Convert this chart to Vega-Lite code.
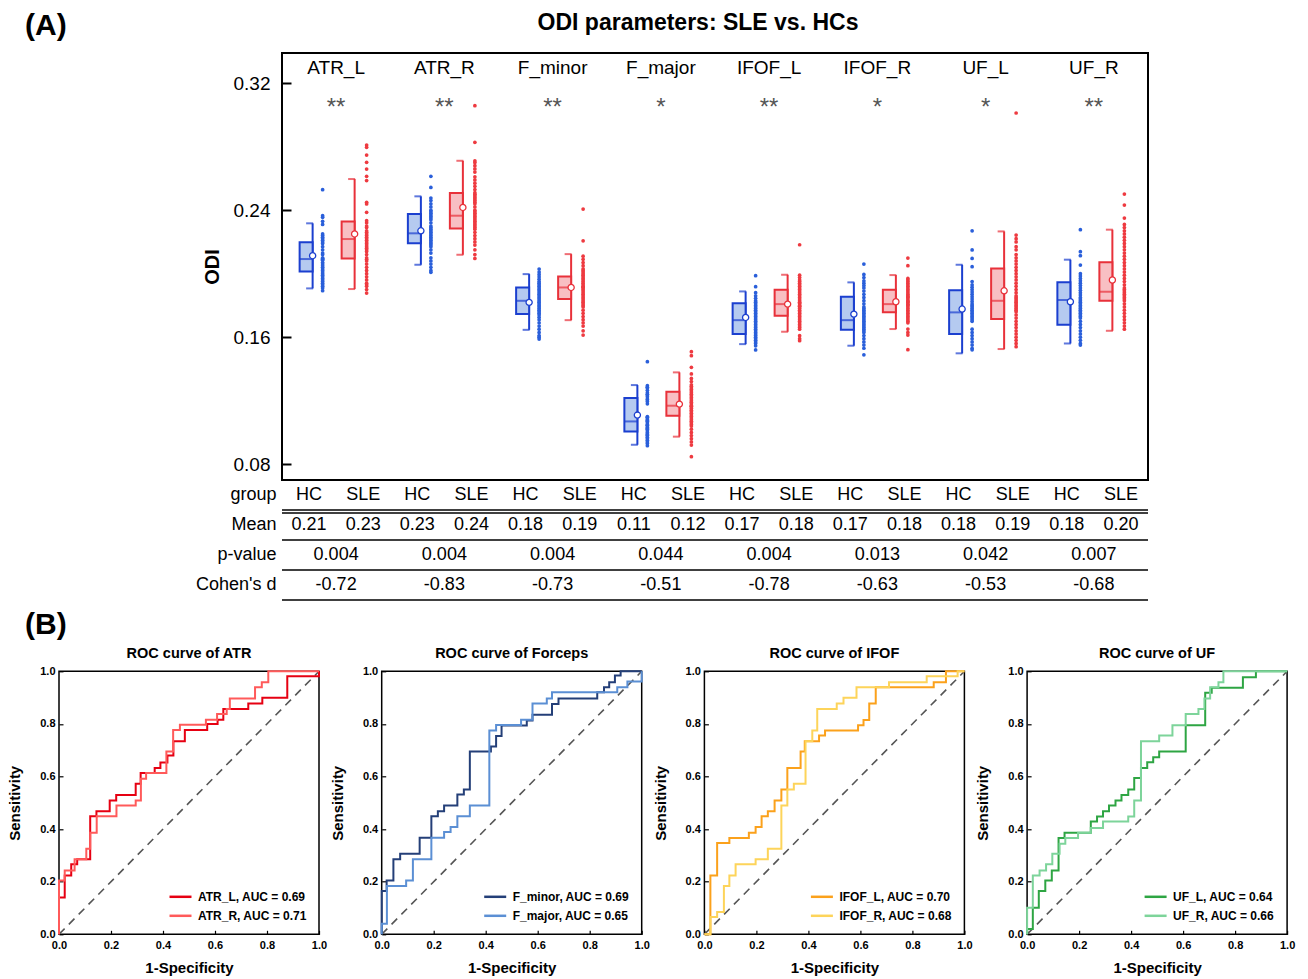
{
"$schema": "https://vega.github.io/schema/vega-lite/v6.json",
"padding": {"left": 6, "top": 11, "right": 4, "bottom": 1},
"bounds": "flush",
"spacing": 618.3,
"config": {
  "font": "Liberation Sans",
  "view": {"stroke": null},
  "axis": {"grid": false, "domain": false, "labelColor": "black", "titleColor": "black", "tickColor": "black", "labelFlush": false, "labelOverlap": false},
  "title": {"font": "Liberation Sans", "color": "black"},
  "text": {"font": "Liberation Sans", "color": "black"},
  "legend": {"labelFont": "Liberation Sans"}
},
"datasets": {
  "stats": [
    {"t":"ATR_L","g":"HC","q1":0.2014,"med":0.2092,"q3":0.2197,"mean":0.2113,"lo":0.1907,"hi":0.2317},
    {"t":"ATR_L","g":"SLE","q1":0.2096,"med":0.2218,"q3":0.2329,"mean":0.2250,"lo":0.1903,"hi":0.2596},
    {"t":"ATR_R","g":"HC","q1":0.2191,"med":0.2254,"q3":0.2375,"mean":0.2270,"lo":0.2056,"hi":0.2487},
    {"t":"ATR_R","g":"SLE","q1":0.2285,"med":0.2365,"q3":0.2508,"mean":0.2417,"lo":0.2119,"hi":0.2711},
    {"t":"F_minor","g":"HC","q1":0.1745,"med":0.1829,"q3":0.1913,"mean":0.1819,"lo":0.1646,"hi":0.1997},
    {"t":"F_minor","g":"SLE","q1":0.1840,"med":0.1913,"q3":0.1982,"mean":0.1913,"lo":0.1707,"hi":0.2123},
    {"t":"F_major","g":"HC","q1":0.1006,"med":0.1069,"q3":0.1216,"mean":0.1109,"lo":0.0922,"hi":0.1298},
    {"t":"F_major","g":"SLE","q1":0.1105,"med":0.1168,"q3":0.1256,"mean":0.1178,"lo":0.0973,"hi":0.1378},
    {"t":"IFOF_L","g":"HC","q1":0.1619,"med":0.1707,"q3":0.1814,"mean":0.1724,"lo":0.1556,"hi":0.1888},
    {"t":"IFOF_L","g":"SLE","q1":0.1735,"med":0.1808,"q3":0.1899,"mean":0.1808,"lo":0.1634,"hi":0.1993},
    {"t":"IFOF_R","g":"HC","q1":0.1646,"med":0.1707,"q3":0.1854,"mean":0.1745,"lo":0.1546,"hi":0.1945},
    {"t":"IFOF_R","g":"SLE","q1":0.1756,"med":0.1808,"q3":0.1899,"mean":0.1823,"lo":0.1651,"hi":0.1991},
    {"t":"UF_L","g":"HC","q1":0.1619,"med":0.1756,"q3":0.1896,"mean":0.1777,"lo":0.1498,"hi":0.2056},
    {"t":"UF_L","g":"SLE","q1":0.1714,"med":0.1829,"q3":0.2033,"mean":0.1892,"lo":0.1525,"hi":0.2266},
    {"t":"UF_R","g":"HC","q1":0.1678,"med":0.1834,"q3":0.1945,"mean":0.1823,"lo":0.1560,"hi":0.2088},
    {"t":"UF_R","g":"SLE","q1":0.1829,"med":0.1886,"q3":0.2071,"mean":0.1960,"lo":0.1640,"hi":0.2277}
  ],
  "tracts": [
    {"t":"ATR_L","sig":"**"},{"t":"ATR_R","sig":"**"},{"t":"F_minor","sig":"**"},{"t":"F_major","sig":"*"},
    {"t":"IFOF_L","sig":"**"},{"t":"IFOF_R","sig":"*"},{"t":"UF_L","sig":"*"},{"t":"UF_R","sig":"**"}
  ],
  "tgm": [
    {"row":"group","t":"ATR_L","g":"HC","txt":"HC"},{"row":"group","t":"ATR_L","g":"SLE","txt":"SLE"},
    {"row":"group","t":"ATR_R","g":"HC","txt":"HC"},{"row":"group","t":"ATR_R","g":"SLE","txt":"SLE"},
    {"row":"group","t":"F_minor","g":"HC","txt":"HC"},{"row":"group","t":"F_minor","g":"SLE","txt":"SLE"},
    {"row":"group","t":"F_major","g":"HC","txt":"HC"},{"row":"group","t":"F_major","g":"SLE","txt":"SLE"},
    {"row":"group","t":"IFOF_L","g":"HC","txt":"HC"},{"row":"group","t":"IFOF_L","g":"SLE","txt":"SLE"},
    {"row":"group","t":"IFOF_R","g":"HC","txt":"HC"},{"row":"group","t":"IFOF_R","g":"SLE","txt":"SLE"},
    {"row":"group","t":"UF_L","g":"HC","txt":"HC"},{"row":"group","t":"UF_L","g":"SLE","txt":"SLE"},
    {"row":"group","t":"UF_R","g":"HC","txt":"HC"},{"row":"group","t":"UF_R","g":"SLE","txt":"SLE"},
    {"row":"Mean","t":"ATR_L","g":"HC","txt":"0.21"},{"row":"Mean","t":"ATR_L","g":"SLE","txt":"0.23"},
    {"row":"Mean","t":"ATR_R","g":"HC","txt":"0.23"},{"row":"Mean","t":"ATR_R","g":"SLE","txt":"0.24"},
    {"row":"Mean","t":"F_minor","g":"HC","txt":"0.18"},{"row":"Mean","t":"F_minor","g":"SLE","txt":"0.19"},
    {"row":"Mean","t":"F_major","g":"HC","txt":"0.11"},{"row":"Mean","t":"F_major","g":"SLE","txt":"0.12"},
    {"row":"Mean","t":"IFOF_L","g":"HC","txt":"0.17"},{"row":"Mean","t":"IFOF_L","g":"SLE","txt":"0.18"},
    {"row":"Mean","t":"IFOF_R","g":"HC","txt":"0.17"},{"row":"Mean","t":"IFOF_R","g":"SLE","txt":"0.18"},
    {"row":"Mean","t":"UF_L","g":"HC","txt":"0.18"},{"row":"Mean","t":"UF_L","g":"SLE","txt":"0.19"},
    {"row":"Mean","t":"UF_R","g":"HC","txt":"0.18"},{"row":"Mean","t":"UF_R","g":"SLE","txt":"0.20"}
  ],
  "tpd": [
    {"row":"p-value","t":"ATR_L","txt":"0.004"},{"row":"p-value","t":"ATR_R","txt":"0.004"},
    {"row":"p-value","t":"F_minor","txt":"0.004"},{"row":"p-value","t":"F_major","txt":"0.044"},
    {"row":"p-value","t":"IFOF_L","txt":"0.004"},{"row":"p-value","t":"IFOF_R","txt":"0.013"},
    {"row":"p-value","t":"UF_L","txt":"0.042"},{"row":"p-value","t":"UF_R","txt":"0.007"},
    {"row":"Cohen's d","t":"ATR_L","txt":"-0.72"},{"row":"Cohen's d","t":"ATR_R","txt":"-0.83"},
    {"row":"Cohen's d","t":"F_minor","txt":"-0.73"},{"row":"Cohen's d","t":"F_major","txt":"-0.51"},
    {"row":"Cohen's d","t":"IFOF_L","txt":"-0.78"},{"row":"Cohen's d","t":"IFOF_R","txt":"-0.63"},
    {"row":"Cohen's d","t":"UF_L","txt":"-0.53"},{"row":"Cohen's d","t":"UF_R","txt":"-0.68"}
  ],
  "tlines": [{"row":"group"},{"row":"Mean"},{"row":"p-value"},{"row":"Cohen's d"}],
  "roc": [
    {"c":"ATR","s":"ATR_L, AUC = 0.69","x":0,"y":0},{"c":"ATR","s":"ATR_L, AUC = 0.69","x":0,"y":0.14},{"c":"ATR","s":"ATR_L, AUC = 0.69","x":0.022,"y":0.224},{"c":"ATR","s":"ATR_L, AUC = 0.69","x":0.047,"y":0.266},{"c":"ATR","s":"ATR_L, AUC = 0.69","x":0.07,"y":0.285},{"c":"ATR","s":"ATR_L, AUC = 0.69","x":0.12,"y":0.449},{"c":"ATR","s":"ATR_L, AUC = 0.69","x":0.144,"y":0.468},{"c":"ATR","s":"ATR_L, AUC = 0.69","x":0.195,"y":0.509},{"c":"ATR","s":"ATR_L, AUC = 0.69","x":0.22,"y":0.53},{"c":"ATR","s":"ATR_L, AUC = 0.69","x":0.295,"y":0.572},{"c":"ATR","s":"ATR_L, AUC = 0.69","x":0.314,"y":0.613},{"c":"ATR","s":"ATR_L, AUC = 0.69","x":0.368,"y":0.632},{"c":"ATR","s":"ATR_L, AUC = 0.69","x":0.39,"y":0.653},{"c":"ATR","s":"ATR_L, AUC = 0.69","x":0.417,"y":0.68},{"c":"ATR","s":"ATR_L, AUC = 0.69","x":0.44,"y":0.734},{"c":"ATR","s":"ATR_L, AUC = 0.69","x":0.484,"y":0.777},{"c":"ATR","s":"ATR_L, AUC = 0.69","x":0.57,"y":0.8},{"c":"ATR","s":"ATR_L, AUC = 0.69","x":0.61,"y":0.816},{"c":"ATR","s":"ATR_L, AUC = 0.69","x":0.632,"y":0.857},{"c":"ATR","s":"ATR_L, AUC = 0.69","x":0.728,"y":0.878},{"c":"ATR","s":"ATR_L, AUC = 0.69","x":0.782,"y":0.899},{"c":"ATR","s":"ATR_L, AUC = 0.69","x":0.878,"y":0.981},{"c":"ATR","s":"ATR_L, AUC = 0.69","x":1,"y":1},
    {"c":"ATR","s":"ATR_R, AUC = 0.71","x":0,"y":0},{"c":"ATR","s":"ATR_R, AUC = 0.71","x":0,"y":0.205},{"c":"ATR","s":"ATR_R, AUC = 0.71","x":0.022,"y":0.243},{"c":"ATR","s":"ATR_R, AUC = 0.71","x":0.06,"y":0.285},{"c":"ATR","s":"ATR_R, AUC = 0.71","x":0.105,"y":0.325},{"c":"ATR","s":"ATR_R, AUC = 0.71","x":0.12,"y":0.386},{"c":"ATR","s":"ATR_R, AUC = 0.71","x":0.145,"y":0.449},{"c":"ATR","s":"ATR_R, AUC = 0.71","x":0.221,"y":0.49},{"c":"ATR","s":"ATR_R, AUC = 0.71","x":0.295,"y":0.509},{"c":"ATR","s":"ATR_R, AUC = 0.71","x":0.315,"y":0.591},{"c":"ATR","s":"ATR_R, AUC = 0.71","x":0.335,"y":0.613},{"c":"ATR","s":"ATR_R, AUC = 0.71","x":0.413,"y":0.695},{"c":"ATR","s":"ATR_R, AUC = 0.71","x":0.439,"y":0.777},{"c":"ATR","s":"ATR_R, AUC = 0.71","x":0.465,"y":0.797},{"c":"ATR","s":"ATR_R, AUC = 0.71","x":0.565,"y":0.816},{"c":"ATR","s":"ATR_R, AUC = 0.71","x":0.608,"y":0.838},{"c":"ATR","s":"ATR_R, AUC = 0.71","x":0.645,"y":0.857},{"c":"ATR","s":"ATR_R, AUC = 0.71","x":0.657,"y":0.897},{"c":"ATR","s":"ATR_R, AUC = 0.71","x":0.754,"y":0.939},{"c":"ATR","s":"ATR_R, AUC = 0.71","x":0.78,"y":0.958},{"c":"ATR","s":"ATR_R, AUC = 0.71","x":0.805,"y":1},{"c":"ATR","s":"ATR_R, AUC = 0.71","x":1,"y":1},
    {"c":"F","s":"F_minor, AUC = 0.69","x":0,"y":0},{"c":"F","s":"F_minor, AUC = 0.69","x":0,"y":0.165},{"c":"F","s":"F_minor, AUC = 0.69","x":0.019,"y":0.205},{"c":"F","s":"F_minor, AUC = 0.69","x":0.045,"y":0.285},{"c":"F","s":"F_minor, AUC = 0.69","x":0.071,"y":0.306},{"c":"F","s":"F_minor, AUC = 0.69","x":0.146,"y":0.367},{"c":"F","s":"F_minor, AUC = 0.69","x":0.191,"y":0.449},{"c":"F","s":"F_minor, AUC = 0.69","x":0.216,"y":0.468},{"c":"F","s":"F_minor, AUC = 0.69","x":0.24,"y":0.49},{"c":"F","s":"F_minor, AUC = 0.69","x":0.291,"y":0.532},{"c":"F","s":"F_minor, AUC = 0.69","x":0.316,"y":0.551},{"c":"F","s":"F_minor, AUC = 0.69","x":0.339,"y":0.695},{"c":"F","s":"F_minor, AUC = 0.69","x":0.42,"y":0.714},{"c":"F","s":"F_minor, AUC = 0.69","x":0.44,"y":0.754},{"c":"F","s":"F_minor, AUC = 0.69","x":0.461,"y":0.794},{"c":"F","s":"F_minor, AUC = 0.69","x":0.558,"y":0.813},{"c":"F","s":"F_minor, AUC = 0.69","x":0.58,"y":0.835},{"c":"F","s":"F_minor, AUC = 0.69","x":0.655,"y":0.876},{"c":"F","s":"F_minor, AUC = 0.69","x":0.68,"y":0.897},{"c":"F","s":"F_minor, AUC = 0.69","x":0.829,"y":0.92},{"c":"F","s":"F_minor, AUC = 0.69","x":0.855,"y":0.939},{"c":"F","s":"F_minor, AUC = 0.69","x":0.875,"y":0.958},{"c":"F","s":"F_minor, AUC = 0.69","x":0.897,"y":0.984},{"c":"F","s":"F_minor, AUC = 0.69","x":0.919,"y":1},{"c":"F","s":"F_minor, AUC = 0.69","x":1,"y":1},
    {"c":"F","s":"F_major, AUC = 0.65","x":0,"y":0},{"c":"F","s":"F_major, AUC = 0.65","x":0,"y":0.04},{"c":"F","s":"F_major, AUC = 0.65","x":0.02,"y":0.184},{"c":"F","s":"F_major, AUC = 0.65","x":0.094,"y":0.205},{"c":"F","s":"F_major, AUC = 0.65","x":0.12,"y":0.285},{"c":"F","s":"F_major, AUC = 0.65","x":0.191,"y":0.367},{"c":"F","s":"F_major, AUC = 0.65","x":0.24,"y":0.389},{"c":"F","s":"F_major, AUC = 0.65","x":0.265,"y":0.408},{"c":"F","s":"F_major, AUC = 0.65","x":0.291,"y":0.449},{"c":"F","s":"F_major, AUC = 0.65","x":0.339,"y":0.49},{"c":"F","s":"F_major, AUC = 0.65","x":0.414,"y":0.775},{"c":"F","s":"F_major, AUC = 0.65","x":0.44,"y":0.796},{"c":"F","s":"F_major, AUC = 0.65","x":0.536,"y":0.816},{"c":"F","s":"F_major, AUC = 0.65","x":0.58,"y":0.878},{"c":"F","s":"F_major, AUC = 0.65","x":0.635,"y":0.897},{"c":"F","s":"F_major, AUC = 0.65","x":0.655,"y":0.92},{"c":"F","s":"F_major, AUC = 0.65","x":0.906,"y":0.939},{"c":"F","s":"F_major, AUC = 0.65","x":0.945,"y":0.961},{"c":"F","s":"F_major, AUC = 0.65","x":1,"y":1},
    {"c":"IFOF","s":"IFOF_L, AUC = 0.70","x":0,"y":0},{"c":"IFOF","s":"IFOF_L, AUC = 0.70","x":0.023,"y":0.224},{"c":"IFOF","s":"IFOF_L, AUC = 0.70","x":0.049,"y":0.347},{"c":"IFOF","s":"IFOF_L, AUC = 0.70","x":0.096,"y":0.366},{"c":"IFOF","s":"IFOF_L, AUC = 0.70","x":0.171,"y":0.386},{"c":"IFOF","s":"IFOF_L, AUC = 0.70","x":0.197,"y":0.408},{"c":"IFOF","s":"IFOF_L, AUC = 0.70","x":0.22,"y":0.449},{"c":"IFOF","s":"IFOF_L, AUC = 0.70","x":0.244,"y":0.468},{"c":"IFOF","s":"IFOF_L, AUC = 0.70","x":0.27,"y":0.509},{"c":"IFOF","s":"IFOF_L, AUC = 0.70","x":0.296,"y":0.551},{"c":"IFOF","s":"IFOF_L, AUC = 0.70","x":0.319,"y":0.632},{"c":"IFOF","s":"IFOF_L, AUC = 0.70","x":0.37,"y":0.695},{"c":"IFOF","s":"IFOF_L, AUC = 0.70","x":0.386,"y":0.734},{"c":"IFOF","s":"IFOF_L, AUC = 0.70","x":0.441,"y":0.756},{"c":"IFOF","s":"IFOF_L, AUC = 0.70","x":0.464,"y":0.775},{"c":"IFOF","s":"IFOF_L, AUC = 0.70","x":0.591,"y":0.795},{"c":"IFOF","s":"IFOF_L, AUC = 0.70","x":0.612,"y":0.815},{"c":"IFOF","s":"IFOF_L, AUC = 0.70","x":0.634,"y":0.878},{"c":"IFOF","s":"IFOF_L, AUC = 0.70","x":0.659,"y":0.939},{"c":"IFOF","s":"IFOF_L, AUC = 0.70","x":0.882,"y":0.958},{"c":"IFOF","s":"IFOF_L, AUC = 0.70","x":0.929,"y":1},{"c":"IFOF","s":"IFOF_L, AUC = 0.70","x":1,"y":1},
    {"c":"IFOF","s":"IFOF_R, AUC = 0.68","x":0,"y":0},{"c":"IFOF","s":"IFOF_R, AUC = 0.68","x":0.023,"y":0.066},{"c":"IFOF","s":"IFOF_R, AUC = 0.68","x":0.049,"y":0.085},{"c":"IFOF","s":"IFOF_R, AUC = 0.68","x":0.075,"y":0.184},{"c":"IFOF","s":"IFOF_R, AUC = 0.68","x":0.096,"y":0.224},{"c":"IFOF","s":"IFOF_R, AUC = 0.68","x":0.12,"y":0.266},{"c":"IFOF","s":"IFOF_R, AUC = 0.68","x":0.197,"y":0.285},{"c":"IFOF","s":"IFOF_R, AUC = 0.68","x":0.244,"y":0.325},{"c":"IFOF","s":"IFOF_R, AUC = 0.68","x":0.296,"y":0.49},{"c":"IFOF","s":"IFOF_R, AUC = 0.68","x":0.319,"y":0.551},{"c":"IFOF","s":"IFOF_R, AUC = 0.68","x":0.344,"y":0.572},{"c":"IFOF","s":"IFOF_R, AUC = 0.68","x":0.389,"y":0.734},{"c":"IFOF","s":"IFOF_R, AUC = 0.68","x":0.415,"y":0.775},{"c":"IFOF","s":"IFOF_R, AUC = 0.68","x":0.434,"y":0.857},{"c":"IFOF","s":"IFOF_R, AUC = 0.68","x":0.509,"y":0.878},{"c":"IFOF","s":"IFOF_R, AUC = 0.68","x":0.535,"y":0.899},{"c":"IFOF","s":"IFOF_R, AUC = 0.68","x":0.585,"y":0.939},{"c":"IFOF","s":"IFOF_R, AUC = 0.68","x":0.71,"y":0.958},{"c":"IFOF","s":"IFOF_R, AUC = 0.68","x":0.855,"y":0.981},{"c":"IFOF","s":"IFOF_R, AUC = 0.68","x":0.974,"y":1},{"c":"IFOF","s":"IFOF_R, AUC = 0.68","x":1,"y":1},
    {"c":"UF","s":"UF_L, AUC = 0.64","x":0,"y":0},{"c":"UF","s":"UF_L, AUC = 0.64","x":0,"y":0.02},{"c":"UF","s":"UF_L, AUC = 0.64","x":0.022,"y":0.101},{"c":"UF","s":"UF_L, AUC = 0.64","x":0.045,"y":0.165},{"c":"UF","s":"UF_L, AUC = 0.64","x":0.07,"y":0.205},{"c":"UF","s":"UF_L, AUC = 0.64","x":0.095,"y":0.243},{"c":"UF","s":"UF_L, AUC = 0.64","x":0.121,"y":0.366},{"c":"UF","s":"UF_L, AUC = 0.64","x":0.144,"y":0.386},{"c":"UF","s":"UF_L, AUC = 0.64","x":0.245,"y":0.429},{"c":"UF","s":"UF_L, AUC = 0.64","x":0.269,"y":0.448},{"c":"UF","s":"UF_L, AUC = 0.64","x":0.292,"y":0.468},{"c":"UF","s":"UF_L, AUC = 0.64","x":0.315,"y":0.49},{"c":"UF","s":"UF_L, AUC = 0.64","x":0.34,"y":0.509},{"c":"UF","s":"UF_L, AUC = 0.64","x":0.363,"y":0.53},{"c":"UF","s":"UF_L, AUC = 0.64","x":0.389,"y":0.551},{"c":"UF","s":"UF_L, AUC = 0.64","x":0.412,"y":0.594},{"c":"UF","s":"UF_L, AUC = 0.64","x":0.438,"y":0.632},{"c":"UF","s":"UF_L, AUC = 0.64","x":0.462,"y":0.654},{"c":"UF","s":"UF_L, AUC = 0.64","x":0.485,"y":0.673},{"c":"UF","s":"UF_L, AUC = 0.64","x":0.508,"y":0.695},{"c":"UF","s":"UF_L, AUC = 0.64","x":0.61,"y":0.795},{"c":"UF","s":"UF_L, AUC = 0.64","x":0.685,"y":0.918},{"c":"UF","s":"UF_L, AUC = 0.64","x":0.71,"y":0.937},{"c":"UF","s":"UF_L, AUC = 0.64","x":0.83,"y":0.977},{"c":"UF","s":"UF_L, AUC = 0.64","x":0.88,"y":1},{"c":"UF","s":"UF_L, AUC = 0.64","x":1,"y":1},
    {"c":"UF","s":"UF_R, AUC = 0.66","x":0,"y":0},{"c":"UF","s":"UF_R, AUC = 0.66","x":0,"y":0.101},{"c":"UF","s":"UF_R, AUC = 0.66","x":0.022,"y":0.224},{"c":"UF","s":"UF_R, AUC = 0.66","x":0.048,"y":0.243},{"c":"UF","s":"UF_R, AUC = 0.66","x":0.073,"y":0.266},{"c":"UF","s":"UF_R, AUC = 0.66","x":0.097,"y":0.306},{"c":"UF","s":"UF_R, AUC = 0.66","x":0.125,"y":0.344},{"c":"UF","s":"UF_R, AUC = 0.66","x":0.147,"y":0.366},{"c":"UF","s":"UF_R, AUC = 0.66","x":0.196,"y":0.386},{"c":"UF","s":"UF_R, AUC = 0.66","x":0.245,"y":0.404},{"c":"UF","s":"UF_R, AUC = 0.66","x":0.292,"y":0.429},{"c":"UF","s":"UF_R, AUC = 0.66","x":0.389,"y":0.448},{"c":"UF","s":"UF_R, AUC = 0.66","x":0.412,"y":0.509},{"c":"UF","s":"UF_R, AUC = 0.66","x":0.438,"y":0.734},{"c":"UF","s":"UF_R, AUC = 0.66","x":0.508,"y":0.756},{"c":"UF","s":"UF_R, AUC = 0.66","x":0.559,"y":0.795},{"c":"UF","s":"UF_R, AUC = 0.66","x":0.61,"y":0.838},{"c":"UF","s":"UF_R, AUC = 0.66","x":0.659,"y":0.857},{"c":"UF","s":"UF_R, AUC = 0.66","x":0.682,"y":0.897},{"c":"UF","s":"UF_R, AUC = 0.66","x":0.704,"y":0.939},{"c":"UF","s":"UF_R, AUC = 0.66","x":0.736,"y":0.958},{"c":"UF","s":"UF_R, AUC = 0.66","x":0.755,"y":1},{"c":"UF","s":"UF_R, AUC = 0.66","x":1,"y":1}
  ],
  "dots": [
    {"t":"ATR_L","g":"HC","v":0.2529},{"t":"ATR_L","g":"HC","v":0.2365},{"t":"ATR_L","g":"HC","v":0.2355},{"t":"ATR_L","g":"HC","v":0.233},{"t":"ATR_L","g":"HC","v":0.231},{"t":"ATR_L","g":"HC","v":0.225},{"t":"ATR_L","g":"HC","v":0.224},{"t":"ATR_L","g":"HC","v":0.223},{"t":"ATR_L","g":"HC","v":0.222},{"t":"ATR_L","g":"HC","v":0.221},{"t":"ATR_L","g":"HC","v":0.22},{"t":"ATR_L","g":"HC","v":0.219},{"t":"ATR_L","g":"HC","v":0.217},{"t":"ATR_L","g":"HC","v":0.215},{"t":"ATR_L","g":"HC","v":0.213},{"t":"ATR_L","g":"HC","v":0.212},{"t":"ATR_L","g":"HC","v":0.21},{"t":"ATR_L","g":"HC","v":0.2095},{"t":"ATR_L","g":"HC","v":0.209},{"t":"ATR_L","g":"HC","v":0.2085},{"t":"ATR_L","g":"HC","v":0.207},{"t":"ATR_L","g":"HC","v":0.206},{"t":"ATR_L","g":"HC","v":0.205},{"t":"ATR_L","g":"HC","v":0.204},{"t":"ATR_L","g":"HC","v":0.203},{"t":"ATR_L","g":"HC","v":0.202},{"t":"ATR_L","g":"HC","v":0.201},{"t":"ATR_L","g":"HC","v":0.2},{"t":"ATR_L","g":"HC","v":0.199},{"t":"ATR_L","g":"HC","v":0.198},{"t":"ATR_L","g":"HC","v":0.197},{"t":"ATR_L","g":"HC","v":0.196},{"t":"ATR_L","g":"HC","v":0.195},{"t":"ATR_L","g":"HC","v":0.194},{"t":"ATR_L","g":"HC","v":0.193},{"t":"ATR_L","g":"HC","v":0.192},{"t":"ATR_L","g":"HC","v":0.191},{"t":"ATR_L","g":"HC","v":0.1893},
    {"t":"ATR_L","g":"SLE","v":0.281},{"t":"ATR_L","g":"SLE","v":0.2796},{"t":"ATR_L","g":"SLE","v":0.2747},{"t":"ATR_L","g":"SLE","v":0.2701},{"t":"ATR_L","g":"SLE","v":0.2659},{"t":"ATR_L","g":"SLE","v":0.2613},{"t":"ATR_L","g":"SLE","v":0.2586},{"t":"ATR_L","g":"SLE","v":0.2449},{"t":"ATR_L","g":"SLE","v":0.2439},{"t":"ATR_L","g":"SLE","v":0.2386},{"t":"ATR_L","g":"SLE","v":0.2334},{"t":"ATR_L","g":"SLE","v":0.232},{"t":"ATR_L","g":"SLE","v":0.23},{"t":"ATR_L","g":"SLE","v":0.229},{"t":"ATR_L","g":"SLE","v":0.227},{"t":"ATR_L","g":"SLE","v":0.226},{"t":"ATR_L","g":"SLE","v":0.225},{"t":"ATR_L","g":"SLE","v":0.224},{"t":"ATR_L","g":"SLE","v":0.223},{"t":"ATR_L","g":"SLE","v":0.222},{"t":"ATR_L","g":"SLE","v":0.221},{"t":"ATR_L","g":"SLE","v":0.22},{"t":"ATR_L","g":"SLE","v":0.219},{"t":"ATR_L","g":"SLE","v":0.218},{"t":"ATR_L","g":"SLE","v":0.217},{"t":"ATR_L","g":"SLE","v":0.216},{"t":"ATR_L","g":"SLE","v":0.215},{"t":"ATR_L","g":"SLE","v":0.214},{"t":"ATR_L","g":"SLE","v":0.212},{"t":"ATR_L","g":"SLE","v":0.21},{"t":"ATR_L","g":"SLE","v":0.209},{"t":"ATR_L","g":"SLE","v":0.208},{"t":"ATR_L","g":"SLE","v":0.206},{"t":"ATR_L","g":"SLE","v":0.204},{"t":"ATR_L","g":"SLE","v":0.202},{"t":"ATR_L","g":"SLE","v":0.2},{"t":"ATR_L","g":"SLE","v":0.198},{"t":"ATR_L","g":"SLE","v":0.196},{"t":"ATR_L","g":"SLE","v":0.194},{"t":"ATR_L","g":"SLE","v":0.193},{"t":"ATR_L","g":"SLE","v":0.192},{"t":"ATR_L","g":"SLE","v":0.19},{"t":"ATR_L","g":"SLE","v":0.1878},
    {"t":"ATR_R","g":"HC","v":0.2613},{"t":"ATR_R","g":"HC","v":0.2543},{"t":"ATR_R","g":"HC","v":0.2476},{"t":"ATR_R","g":"HC","v":0.246},{"t":"ATR_R","g":"HC","v":0.244},{"t":"ATR_R","g":"HC","v":0.242},{"t":"ATR_R","g":"HC","v":0.24},{"t":"ATR_R","g":"HC","v":0.239},{"t":"ATR_R","g":"HC","v":0.238},{"t":"ATR_R","g":"HC","v":0.237},{"t":"ATR_R","g":"HC","v":0.236},{"t":"ATR_R","g":"HC","v":0.235},{"t":"ATR_R","g":"HC","v":0.234},{"t":"ATR_R","g":"HC","v":0.232},{"t":"ATR_R","g":"HC","v":0.23},{"t":"ATR_R","g":"HC","v":0.229},{"t":"ATR_R","g":"HC","v":0.228},{"t":"ATR_R","g":"HC","v":0.227},{"t":"ATR_R","g":"HC","v":0.226},{"t":"ATR_R","g":"HC","v":0.225},{"t":"ATR_R","g":"HC","v":0.224},{"t":"ATR_R","g":"HC","v":0.223},{"t":"ATR_R","g":"HC","v":0.222},{"t":"ATR_R","g":"HC","v":0.221},{"t":"ATR_R","g":"HC","v":0.22},{"t":"ATR_R","g":"HC","v":0.219},{"t":"ATR_R","g":"HC","v":0.218},{"t":"ATR_R","g":"HC","v":0.217},{"t":"ATR_R","g":"HC","v":0.215},{"t":"ATR_R","g":"HC","v":0.213},{"t":"ATR_R","g":"HC","v":0.21},{"t":"ATR_R","g":"HC","v":0.208},{"t":"ATR_R","g":"HC","v":0.206},{"t":"ATR_R","g":"HC","v":0.204},{"t":"ATR_R","g":"HC","v":0.202},{"t":"ATR_R","g":"HC","v":0.2008},
    {"t":"ATR_R","g":"SLE","v":0.3058},{"t":"ATR_R","g":"SLE","v":0.2827},{"t":"ATR_R","g":"SLE","v":0.2711},{"t":"ATR_R","g":"SLE","v":0.27},{"t":"ATR_R","g":"SLE","v":0.268},{"t":"ATR_R","g":"SLE","v":0.266},{"t":"ATR_R","g":"SLE","v":0.264},{"t":"ATR_R","g":"SLE","v":0.261},{"t":"ATR_R","g":"SLE","v":0.259},{"t":"ATR_R","g":"SLE","v":0.257},{"t":"ATR_R","g":"SLE","v":0.255},{"t":"ATR_R","g":"SLE","v":0.253},{"t":"ATR_R","g":"SLE","v":0.251},{"t":"ATR_R","g":"SLE","v":0.25},{"t":"ATR_R","g":"SLE","v":0.249},{"t":"ATR_R","g":"SLE","v":0.248},{"t":"ATR_R","g":"SLE","v":0.247},{"t":"ATR_R","g":"SLE","v":0.246},{"t":"ATR_R","g":"SLE","v":0.245},{"t":"ATR_R","g":"SLE","v":0.244},{"t":"ATR_R","g":"SLE","v":0.242},{"t":"ATR_R","g":"SLE","v":0.24},{"t":"ATR_R","g":"SLE","v":0.239},{"t":"ATR_R","g":"SLE","v":0.238},{"t":"ATR_R","g":"SLE","v":0.237},{"t":"ATR_R","g":"SLE","v":0.236},{"t":"ATR_R","g":"SLE","v":0.235},{"t":"ATR_R","g":"SLE","v":0.234},{"t":"ATR_R","g":"SLE","v":0.233},{"t":"ATR_R","g":"SLE","v":0.232},{"t":"ATR_R","g":"SLE","v":0.231},{"t":"ATR_R","g":"SLE","v":0.23},{"t":"ATR_R","g":"SLE","v":0.229},{"t":"ATR_R","g":"SLE","v":0.228},{"t":"ATR_R","g":"SLE","v":0.226},{"t":"ATR_R","g":"SLE","v":0.224},{"t":"ATR_R","g":"SLE","v":0.222},{"t":"ATR_R","g":"SLE","v":0.22},{"t":"ATR_R","g":"SLE","v":0.218},{"t":"ATR_R","g":"SLE","v":0.215},{"t":"ATR_R","g":"SLE","v":0.212},{"t":"ATR_R","g":"SLE","v":0.2096},
    {"t":"F_minor","g":"HC","v":0.2029},{"t":"F_minor","g":"HC","v":0.201},{"t":"F_minor","g":"HC","v":0.1995},{"t":"F_minor","g":"HC","v":0.198},{"t":"F_minor","g":"HC","v":0.1965},{"t":"F_minor","g":"HC","v":0.195},{"t":"F_minor","g":"HC","v":0.194},{"t":"F_minor","g":"HC","v":0.193},{"t":"F_minor","g":"HC","v":0.192},{"t":"F_minor","g":"HC","v":0.191},{"t":"F_minor","g":"HC","v":0.19},{"t":"F_minor","g":"HC","v":0.189},{"t":"F_minor","g":"HC","v":0.188},{"t":"F_minor","g":"HC","v":0.187},{"t":"F_minor","g":"HC","v":0.186},{"t":"F_minor","g":"HC","v":0.185},{"t":"F_minor","g":"HC","v":0.184},{"t":"F_minor","g":"HC","v":0.183},{"t":"F_minor","g":"HC","v":0.182},{"t":"F_minor","g":"HC","v":0.181},{"t":"F_minor","g":"HC","v":0.18},{"t":"F_minor","g":"HC","v":0.179},{"t":"F_minor","g":"HC","v":0.178},{"t":"F_minor","g":"HC","v":0.177},{"t":"F_minor","g":"HC","v":0.176},{"t":"F_minor","g":"HC","v":0.175},{"t":"F_minor","g":"HC","v":0.174},{"t":"F_minor","g":"HC","v":0.1725},{"t":"F_minor","g":"HC","v":0.171},{"t":"F_minor","g":"HC","v":0.169},{"t":"F_minor","g":"HC","v":0.167},{"t":"F_minor","g":"HC","v":0.165},{"t":"F_minor","g":"HC","v":0.163},{"t":"F_minor","g":"HC","v":0.161},{"t":"F_minor","g":"HC","v":0.16},{"t":"F_minor","g":"HC","v":0.1588},
    {"t":"F_minor","g":"SLE","v":0.2407},{"t":"F_minor","g":"SLE","v":0.2207},{"t":"F_minor","g":"SLE","v":0.211},{"t":"F_minor","g":"SLE","v":0.209},{"t":"F_minor","g":"SLE","v":0.207},{"t":"F_minor","g":"SLE","v":0.205},{"t":"F_minor","g":"SLE","v":0.203},{"t":"F_minor","g":"SLE","v":0.202},{"t":"F_minor","g":"SLE","v":0.201},{"t":"F_minor","g":"SLE","v":0.2},{"t":"F_minor","g":"SLE","v":0.199},{"t":"F_minor","g":"SLE","v":0.198},{"t":"F_minor","g":"SLE","v":0.197},{"t":"F_minor","g":"SLE","v":0.196},{"t":"F_minor","g":"SLE","v":0.195},{"t":"F_minor","g":"SLE","v":0.194},{"t":"F_minor","g":"SLE","v":0.193},{"t":"F_minor","g":"SLE","v":0.192},{"t":"F_minor","g":"SLE","v":0.1915},{"t":"F_minor","g":"SLE","v":0.191},{"t":"F_minor","g":"SLE","v":0.19},{"t":"F_minor","g":"SLE","v":0.189},{"t":"F_minor","g":"SLE","v":0.188},{"t":"F_minor","g":"SLE","v":0.187},{"t":"F_minor","g":"SLE","v":0.186},{"t":"F_minor","g":"SLE","v":0.185},{"t":"F_minor","g":"SLE","v":0.184},{"t":"F_minor","g":"SLE","v":0.183},{"t":"F_minor","g":"SLE","v":0.182},{"t":"F_minor","g":"SLE","v":0.181},{"t":"F_minor","g":"SLE","v":0.18},{"t":"F_minor","g":"SLE","v":0.179},{"t":"F_minor","g":"SLE","v":0.177},{"t":"F_minor","g":"SLE","v":0.175},{"t":"F_minor","g":"SLE","v":0.173},{"t":"F_minor","g":"SLE","v":0.171},{"t":"F_minor","g":"SLE","v":0.169},{"t":"F_minor","g":"SLE","v":0.167},{"t":"F_minor","g":"SLE","v":0.164},{"t":"F_minor","g":"SLE","v":0.1613},
    {"t":"F_major","g":"HC","v":0.1445},{"t":"F_major","g":"HC","v":0.1294},{"t":"F_major","g":"HC","v":0.1285},{"t":"F_major","g":"HC","v":0.128},{"t":"F_major","g":"HC","v":0.1265},{"t":"F_major","g":"HC","v":0.125},{"t":"F_major","g":"HC","v":0.124},{"t":"F_major","g":"HC","v":0.1235},{"t":"F_major","g":"HC","v":0.1225},{"t":"F_major","g":"HC","v":0.121},{"t":"F_major","g":"HC","v":0.1205},{"t":"F_major","g":"HC","v":0.1195},{"t":"F_major","g":"HC","v":0.118},{"t":"F_major","g":"HC","v":0.11},{"t":"F_major","g":"HC","v":0.1095},{"t":"F_major","g":"HC","v":0.109},{"t":"F_major","g":"HC","v":0.108},{"t":"F_major","g":"HC","v":0.1075},{"t":"F_major","g":"HC","v":0.107},{"t":"F_major","g":"HC","v":0.106},{"t":"F_major","g":"HC","v":0.105},{"t":"F_major","g":"HC","v":0.1045},{"t":"F_major","g":"HC","v":0.104},{"t":"F_major","g":"HC","v":0.103},{"t":"F_major","g":"HC","v":0.1025},{"t":"F_major","g":"HC","v":0.102},{"t":"F_major","g":"HC","v":0.101},{"t":"F_major","g":"HC","v":0.1},{"t":"F_major","g":"HC","v":0.099},{"t":"F_major","g":"HC","v":0.0985},{"t":"F_major","g":"HC","v":0.098},{"t":"F_major","g":"HC","v":0.097},{"t":"F_major","g":"HC","v":0.096},{"t":"F_major","g":"HC","v":0.095},{"t":"F_major","g":"HC","v":0.094},{"t":"F_major","g":"HC","v":0.093},{"t":"F_major","g":"HC","v":0.0916},
    {"t":"F_major","g":"SLE","v":0.1508},{"t":"F_major","g":"SLE","v":0.1483},{"t":"F_major","g":"SLE","v":0.141},{"t":"F_major","g":"SLE","v":0.1368},{"t":"F_major","g":"SLE","v":0.134},{"t":"F_major","g":"SLE","v":0.132},{"t":"F_major","g":"SLE","v":0.13},{"t":"F_major","g":"SLE","v":0.129},{"t":"F_major","g":"SLE","v":0.128},{"t":"F_major","g":"SLE","v":0.127},{"t":"F_major","g":"SLE","v":0.126},{"t":"F_major","g":"SLE","v":0.125},{"t":"F_major","g":"SLE","v":0.124},{"t":"F_major","g":"SLE","v":0.123},{"t":"F_major","g":"SLE","v":0.122},{"t":"F_major","g":"SLE","v":0.121},{"t":"F_major","g":"SLE","v":0.12},{"t":"F_major","g":"SLE","v":0.119},{"t":"F_major","g":"SLE","v":0.118},{"t":"F_major","g":"SLE","v":0.117},{"t":"F_major","g":"SLE","v":0.1165},{"t":"F_major","g":"SLE","v":0.116},{"t":"F_major","g":"SLE","v":0.115},{"t":"F_major","g":"SLE","v":0.114},{"t":"F_major","g":"SLE","v":0.113},{"t":"F_major","g":"SLE","v":0.112},{"t":"F_major","g":"SLE","v":0.111},{"t":"F_major","g":"SLE","v":0.11},{"t":"F_major","g":"SLE","v":0.109},{"t":"F_major","g":"SLE","v":0.108},{"t":"F_major","g":"SLE","v":0.107},{"t":"F_major","g":"SLE","v":0.106},{"t":"F_major","g":"SLE","v":0.105},{"t":"F_major","g":"SLE","v":0.104},{"t":"F_major","g":"SLE","v":0.102},{"t":"F_major","g":"SLE","v":0.1},{"t":"F_major","g":"SLE","v":0.098},{"t":"F_major","g":"SLE","v":0.096},{"t":"F_major","g":"SLE","v":0.094},{"t":"F_major","g":"SLE","v":0.092},{"t":"F_major","g":"SLE","v":0.0847},
    {"t":"IFOF_L","g":"HC","v":0.1987},{"t":"IFOF_L","g":"HC","v":0.1918},{"t":"IFOF_L","g":"HC","v":0.188},{"t":"IFOF_L","g":"HC","v":0.186},{"t":"IFOF_L","g":"HC","v":0.1845},{"t":"IFOF_L","g":"HC","v":0.183},{"t":"IFOF_L","g":"HC","v":0.182},{"t":"IFOF_L","g":"HC","v":0.181},{"t":"IFOF_L","g":"HC","v":0.18},{"t":"IFOF_L","g":"HC","v":0.179},{"t":"IFOF_L","g":"HC","v":0.178},{"t":"IFOF_L","g":"HC","v":0.177},{"t":"IFOF_L","g":"HC","v":0.176},{"t":"IFOF_L","g":"HC","v":0.175},{"t":"IFOF_L","g":"HC","v":0.174},{"t":"IFOF_L","g":"HC","v":0.173},{"t":"IFOF_L","g":"HC","v":0.172},{"t":"IFOF_L","g":"HC","v":0.171},{"t":"IFOF_L","g":"HC","v":0.17},{"t":"IFOF_L","g":"HC","v":0.169},{"t":"IFOF_L","g":"HC","v":0.168},{"t":"IFOF_L","g":"HC","v":0.167},{"t":"IFOF_L","g":"HC","v":0.166},{"t":"IFOF_L","g":"HC","v":0.165},{"t":"IFOF_L","g":"HC","v":0.164},{"t":"IFOF_L","g":"HC","v":0.163},{"t":"IFOF_L","g":"HC","v":0.162},{"t":"IFOF_L","g":"HC","v":0.161},{"t":"IFOF_L","g":"HC","v":0.16},{"t":"IFOF_L","g":"HC","v":0.159},{"t":"IFOF_L","g":"HC","v":0.158},{"t":"IFOF_L","g":"HC","v":0.157},{"t":"IFOF_L","g":"HC","v":0.156},{"t":"IFOF_L","g":"HC","v":0.1545},{"t":"IFOF_L","g":"HC","v":0.1519},
    {"t":"IFOF_L","g":"SLE","v":0.2182},{"t":"IFOF_L","g":"SLE","v":0.199},{"t":"IFOF_L","g":"SLE","v":0.1975},{"t":"IFOF_L","g":"SLE","v":0.196},{"t":"IFOF_L","g":"SLE","v":0.195},{"t":"IFOF_L","g":"SLE","v":0.194},{"t":"IFOF_L","g":"SLE","v":0.193},{"t":"IFOF_L","g":"SLE","v":0.192},{"t":"IFOF_L","g":"SLE","v":0.191},{"t":"IFOF_L","g":"SLE","v":0.19},{"t":"IFOF_L","g":"SLE","v":0.189},{"t":"IFOF_L","g":"SLE","v":0.188},{"t":"IFOF_L","g":"SLE","v":0.187},{"t":"IFOF_L","g":"SLE","v":0.186},{"t":"IFOF_L","g":"SLE","v":0.185},{"t":"IFOF_L","g":"SLE","v":0.184},{"t":"IFOF_L","g":"SLE","v":0.183},{"t":"IFOF_L","g":"SLE","v":0.182},{"t":"IFOF_L","g":"SLE","v":0.1815},{"t":"IFOF_L","g":"SLE","v":0.181},{"t":"IFOF_L","g":"SLE","v":0.18},{"t":"IFOF_L","g":"SLE","v":0.1795},{"t":"IFOF_L","g":"SLE","v":0.179},{"t":"IFOF_L","g":"SLE","v":0.178},{"t":"IFOF_L","g":"SLE","v":0.177},{"t":"IFOF_L","g":"SLE","v":0.176},{"t":"IFOF_L","g":"SLE","v":0.175},{"t":"IFOF_L","g":"SLE","v":0.174},{"t":"IFOF_L","g":"SLE","v":0.173},{"t":"IFOF_L","g":"SLE","v":0.172},{"t":"IFOF_L","g":"SLE","v":0.171},{"t":"IFOF_L","g":"SLE","v":0.17},{"t":"IFOF_L","g":"SLE","v":0.169},{"t":"IFOF_L","g":"SLE","v":0.168},{"t":"IFOF_L","g":"SLE","v":0.167},{"t":"IFOF_L","g":"SLE","v":0.166},{"t":"IFOF_L","g":"SLE","v":0.165},{"t":"IFOF_L","g":"SLE","v":0.1609},{"t":"IFOF_L","g":"SLE","v":0.159},{"t":"IFOF_L","g":"SLE","v":0.1578},
    {"t":"IFOF_R","g":"HC","v":0.206},{"t":"IFOF_R","g":"HC","v":0.1995},{"t":"IFOF_R","g":"HC","v":0.1975},{"t":"IFOF_R","g":"HC","v":0.1955},{"t":"IFOF_R","g":"HC","v":0.194},{"t":"IFOF_R","g":"HC","v":0.1925},{"t":"IFOF_R","g":"HC","v":0.191},{"t":"IFOF_R","g":"HC","v":0.189},{"t":"IFOF_R","g":"HC","v":0.187},{"t":"IFOF_R","g":"HC","v":0.185},{"t":"IFOF_R","g":"HC","v":0.183},{"t":"IFOF_R","g":"HC","v":0.181},{"t":"IFOF_R","g":"HC","v":0.179},{"t":"IFOF_R","g":"HC","v":0.178},{"t":"IFOF_R","g":"HC","v":0.177},{"t":"IFOF_R","g":"HC","v":0.176},{"t":"IFOF_R","g":"HC","v":0.175},{"t":"IFOF_R","g":"HC","v":0.174},{"t":"IFOF_R","g":"HC","v":0.173},{"t":"IFOF_R","g":"HC","v":0.172},{"t":"IFOF_R","g":"HC","v":0.171},{"t":"IFOF_R","g":"HC","v":0.17},{"t":"IFOF_R","g":"HC","v":0.169},{"t":"IFOF_R","g":"HC","v":0.168},{"t":"IFOF_R","g":"HC","v":0.167},{"t":"IFOF_R","g":"HC","v":0.166},{"t":"IFOF_R","g":"HC","v":0.165},{"t":"IFOF_R","g":"HC","v":0.164},{"t":"IFOF_R","g":"HC","v":0.163},{"t":"IFOF_R","g":"HC","v":0.161},{"t":"IFOF_R","g":"HC","v":0.159},{"t":"IFOF_R","g":"HC","v":0.157},{"t":"IFOF_R","g":"HC","v":0.155},{"t":"IFOF_R","g":"HC","v":0.153},{"t":"IFOF_R","g":"HC","v":0.1489},
    {"t":"IFOF_R","g":"SLE","v":0.2098},{"t":"IFOF_R","g":"SLE","v":0.205},{"t":"IFOF_R","g":"SLE","v":0.197},{"t":"IFOF_R","g":"SLE","v":0.196},{"t":"IFOF_R","g":"SLE","v":0.195},{"t":"IFOF_R","g":"SLE","v":0.194},{"t":"IFOF_R","g":"SLE","v":0.193},{"t":"IFOF_R","g":"SLE","v":0.192},{"t":"IFOF_R","g":"SLE","v":0.191},{"t":"IFOF_R","g":"SLE","v":0.19},{"t":"IFOF_R","g":"SLE","v":0.189},{"t":"IFOF_R","g":"SLE","v":0.188},{"t":"IFOF_R","g":"SLE","v":0.187},{"t":"IFOF_R","g":"SLE","v":0.186},{"t":"IFOF_R","g":"SLE","v":0.1855},{"t":"IFOF_R","g":"SLE","v":0.185},{"t":"IFOF_R","g":"SLE","v":0.184},{"t":"IFOF_R","g":"SLE","v":0.183},{"t":"IFOF_R","g":"SLE","v":0.1825},{"t":"IFOF_R","g":"SLE","v":0.182},{"t":"IFOF_R","g":"SLE","v":0.181},{"t":"IFOF_R","g":"SLE","v":0.1805},{"t":"IFOF_R","g":"SLE","v":0.18},{"t":"IFOF_R","g":"SLE","v":0.179},{"t":"IFOF_R","g":"SLE","v":0.178},{"t":"IFOF_R","g":"SLE","v":0.177},{"t":"IFOF_R","g":"SLE","v":0.176},{"t":"IFOF_R","g":"SLE","v":0.175},{"t":"IFOF_R","g":"SLE","v":0.174},{"t":"IFOF_R","g":"SLE","v":0.173},{"t":"IFOF_R","g":"SLE","v":0.172},{"t":"IFOF_R","g":"SLE","v":0.171},{"t":"IFOF_R","g":"SLE","v":0.17},{"t":"IFOF_R","g":"SLE","v":0.169},{"t":"IFOF_R","g":"SLE","v":0.1651},{"t":"IFOF_R","g":"SLE","v":0.163},{"t":"IFOF_R","g":"SLE","v":0.1613},{"t":"IFOF_R","g":"SLE","v":0.1521},
    {"t":"UF_L","g":"HC","v":0.227},{"t":"UF_L","g":"HC","v":0.2149},{"t":"UF_L","g":"HC","v":0.2096},{"t":"UF_L","g":"HC","v":0.2044},{"t":"UF_L","g":"HC","v":0.195},{"t":"UF_L","g":"HC","v":0.193},{"t":"UF_L","g":"HC","v":0.1915},{"t":"UF_L","g":"HC","v":0.19},{"t":"UF_L","g":"HC","v":0.1885},{"t":"UF_L","g":"HC","v":0.187},{"t":"UF_L","g":"HC","v":0.1855},{"t":"UF_L","g":"HC","v":0.184},{"t":"UF_L","g":"HC","v":0.1825},{"t":"UF_L","g":"HC","v":0.181},{"t":"UF_L","g":"HC","v":0.18},{"t":"UF_L","g":"HC","v":0.179},{"t":"UF_L","g":"HC","v":0.178},{"t":"UF_L","g":"HC","v":0.177},{"t":"UF_L","g":"HC","v":0.176},{"t":"UF_L","g":"HC","v":0.175},{"t":"UF_L","g":"HC","v":0.174},{"t":"UF_L","g":"HC","v":0.173},{"t":"UF_L","g":"HC","v":0.172},{"t":"UF_L","g":"HC","v":0.171},{"t":"UF_L","g":"HC","v":0.17},{"t":"UF_L","g":"HC","v":0.165},{"t":"UF_L","g":"HC","v":0.163},{"t":"UF_L","g":"HC","v":0.161},{"t":"UF_L","g":"HC","v":0.159},{"t":"UF_L","g":"HC","v":0.157},{"t":"UF_L","g":"HC","v":0.155},{"t":"UF_L","g":"HC","v":0.153},{"t":"UF_L","g":"HC","v":0.152},
    {"t":"UF_L","g":"SLE","v":0.3012},{"t":"UF_L","g":"SLE","v":0.2243},{"t":"UF_L","g":"SLE","v":0.222},{"t":"UF_L","g":"SLE","v":0.22},{"t":"UF_L","g":"SLE","v":0.217},{"t":"UF_L","g":"SLE","v":0.215},{"t":"UF_L","g":"SLE","v":0.212},{"t":"UF_L","g":"SLE","v":0.21},{"t":"UF_L","g":"SLE","v":0.208},{"t":"UF_L","g":"SLE","v":0.206},{"t":"UF_L","g":"SLE","v":0.204},{"t":"UF_L","g":"SLE","v":0.202},{"t":"UF_L","g":"SLE","v":0.2},{"t":"UF_L","g":"SLE","v":0.198},{"t":"UF_L","g":"SLE","v":0.196},{"t":"UF_L","g":"SLE","v":0.194},{"t":"UF_L","g":"SLE","v":0.192},{"t":"UF_L","g":"SLE","v":0.19},{"t":"UF_L","g":"SLE","v":0.188},{"t":"UF_L","g":"SLE","v":0.186},{"t":"UF_L","g":"SLE","v":0.185},{"t":"UF_L","g":"SLE","v":0.184},{"t":"UF_L","g":"SLE","v":0.183},{"t":"UF_L","g":"SLE","v":0.182},{"t":"UF_L","g":"SLE","v":0.181},{"t":"UF_L","g":"SLE","v":0.18},{"t":"UF_L","g":"SLE","v":0.179},{"t":"UF_L","g":"SLE","v":0.178},{"t":"UF_L","g":"SLE","v":0.177},{"t":"UF_L","g":"SLE","v":0.176},{"t":"UF_L","g":"SLE","v":0.174},{"t":"UF_L","g":"SLE","v":0.172},{"t":"UF_L","g":"SLE","v":0.17},{"t":"UF_L","g":"SLE","v":0.168},{"t":"UF_L","g":"SLE","v":0.166},{"t":"UF_L","g":"SLE","v":0.164},{"t":"UF_L","g":"SLE","v":0.162},{"t":"UF_L","g":"SLE","v":0.16},{"t":"UF_L","g":"SLE","v":0.158},{"t":"UF_L","g":"SLE","v":0.156},{"t":"UF_L","g":"SLE","v":0.154},
    {"t":"UF_R","g":"HC","v":0.2277},{"t":"UF_R","g":"HC","v":0.2138},{"t":"UF_R","g":"HC","v":0.2113},{"t":"UF_R","g":"HC","v":0.2054},{"t":"UF_R","g":"HC","v":0.2},{"t":"UF_R","g":"HC","v":0.1985},{"t":"UF_R","g":"HC","v":0.197},{"t":"UF_R","g":"HC","v":0.1955},{"t":"UF_R","g":"HC","v":0.194},{"t":"UF_R","g":"HC","v":0.1925},{"t":"UF_R","g":"HC","v":0.191},{"t":"UF_R","g":"HC","v":0.1895},{"t":"UF_R","g":"HC","v":0.188},{"t":"UF_R","g":"HC","v":0.1865},{"t":"UF_R","g":"HC","v":0.185},{"t":"UF_R","g":"HC","v":0.184},{"t":"UF_R","g":"HC","v":0.183},{"t":"UF_R","g":"HC","v":0.182},{"t":"UF_R","g":"HC","v":0.181},{"t":"UF_R","g":"HC","v":0.18},{"t":"UF_R","g":"HC","v":0.179},{"t":"UF_R","g":"HC","v":0.178},{"t":"UF_R","g":"HC","v":0.177},{"t":"UF_R","g":"HC","v":0.176},{"t":"UF_R","g":"HC","v":0.175},{"t":"UF_R","g":"HC","v":0.174},{"t":"UF_R","g":"HC","v":0.173},{"t":"UF_R","g":"HC","v":0.172},{"t":"UF_R","g":"HC","v":0.17},{"t":"UF_R","g":"HC","v":0.168},{"t":"UF_R","g":"HC","v":0.166},{"t":"UF_R","g":"HC","v":0.164},{"t":"UF_R","g":"HC","v":0.162},{"t":"UF_R","g":"HC","v":0.16},{"t":"UF_R","g":"HC","v":0.158},{"t":"UF_R","g":"HC","v":0.156},{"t":"UF_R","g":"HC","v":0.155},
    {"t":"UF_R","g":"SLE","v":0.2501},{"t":"UF_R","g":"SLE","v":0.2432},{"t":"UF_R","g":"SLE","v":0.235},{"t":"UF_R","g":"SLE","v":0.231},{"t":"UF_R","g":"SLE","v":0.229},{"t":"UF_R","g":"SLE","v":0.227},{"t":"UF_R","g":"SLE","v":0.225},{"t":"UF_R","g":"SLE","v":0.223},{"t":"UF_R","g":"SLE","v":0.221},{"t":"UF_R","g":"SLE","v":0.219},{"t":"UF_R","g":"SLE","v":0.217},{"t":"UF_R","g":"SLE","v":0.215},{"t":"UF_R","g":"SLE","v":0.213},{"t":"UF_R","g":"SLE","v":0.211},{"t":"UF_R","g":"SLE","v":0.209},{"t":"UF_R","g":"SLE","v":0.207},{"t":"UF_R","g":"SLE","v":0.205},{"t":"UF_R","g":"SLE","v":0.203},{"t":"UF_R","g":"SLE","v":0.201},{"t":"UF_R","g":"SLE","v":0.199},{"t":"UF_R","g":"SLE","v":0.197},{"t":"UF_R","g":"SLE","v":0.195},{"t":"UF_R","g":"SLE","v":0.193},{"t":"UF_R","g":"SLE","v":0.191},{"t":"UF_R","g":"SLE","v":0.19},{"t":"UF_R","g":"SLE","v":0.189},{"t":"UF_R","g":"SLE","v":0.188},{"t":"UF_R","g":"SLE","v":0.187},{"t":"UF_R","g":"SLE","v":0.186},{"t":"UF_R","g":"SLE","v":0.185},{"t":"UF_R","g":"SLE","v":0.184},{"t":"UF_R","g":"SLE","v":0.183},{"t":"UF_R","g":"SLE","v":0.181},{"t":"UF_R","g":"SLE","v":0.179},{"t":"UF_R","g":"SLE","v":0.177},{"t":"UF_R","g":"SLE","v":0.175},{"t":"UF_R","g":"SLE","v":0.173},{"t":"UF_R","g":"SLE","v":0.171},{"t":"UF_R","g":"SLE","v":0.169},{"t":"UF_R","g":"SLE","v":0.167},{"t":"UF_R","g":"SLE","v":0.165}
  ]
},
"vconcat": [
  {
    "bounds": "flush",
    "spacing": 23,
    "hconcat": [
      {
        "width": 200, "height": 100,
        "data": {"values": []},
        "mark": "point",
        "title": {"text": "(A)", "anchor": "start", "frame": "group", "dx": -34, "fontSize": 30, "fontWeight": "bold", "offset": 12}
      },
      {
        "bounds": "flush",
        "spacing": 0,
        "vconcat": [
          {
            "width": 866, "height": 427,
            "view": {"stroke": "black", "strokeWidth": 2},
            "title": {"text": "ODI parameters: SLE vs. HCs", "fontSize": 23, "fontWeight": "bold", "anchor": "middle", "frame": "group", "dx": -17, "offset": 18},
            "encoding": {
              "x": {"field": "t", "type": "nominal", "scale": {"domain": ["ATR_L","ATR_R","F_minor","F_major","IFOF_L","IFOF_R","UF_L","UF_R"], "paddingInner": 0, "paddingOuter": 0}, "axis": null}
            },
            "layer": [
              {
                "data": {"name": "stats"},
                "transform": [{"filter": "datum.g === 'HC'"}],
                "layer": [
                  {"mark": {"type": "rule", "strokeWidth": 2, "color": "#1b3fcf", "xOffset": -23.5},
                   "encoding": {"y": {"field": "lo", "type": "quantitative", "title": "ODI", "scale": {"domain": [0.07, 0.339], "nice": false, "zero": false},
                        "axis": {"values": [0.08, 0.16, 0.24, 0.32], "format": ".2f", "tickSize": -9, "tickWidth": 2, "labelPadding": 21, "labelFontSize": 19, "titleFontSize": 20, "titleFontWeight": "bold", "titlePadding": 11}},
                     "y2": {"field": "hi"}}},
                  {"mark": {"type": "tick", "size": 7, "thickness": 2, "color": "#1b3fcf", "xOffset": -26.5},
                   "encoding": {"y": {"field": "lo", "type": "quantitative", "title": "ODI"}}},
                  {"mark": {"type": "tick", "size": 7, "thickness": 2, "color": "#1b3fcf", "xOffset": -26.5},
                   "encoding": {"y": {"field": "hi", "type": "quantitative", "title": "ODI"}}},
                  {"mark": {"type": "bar", "width": 13, "fill": "#b5caf0", "stroke": "#1b3fcf", "strokeWidth": 2, "xOffset": -30},
                   "encoding": {"y": {"field": "q1", "type": "quantitative", "title": "ODI"}, "y2": {"field": "q3"}}},
                  {"mark": {"type": "tick", "size": 13, "thickness": 2, "color": "#1b3fcf", "xOffset": -30},
                   "encoding": {"y": {"field": "med", "type": "quantitative", "title": "ODI"}}},
                  {"mark": {"type": "point", "shape": "circle", "filled": true, "fill": "white", "stroke": "#1b3fcf", "size": 38, "strokeWidth": 1.3, "opacity": 1, "xOffset": -23.5},
                   "encoding": {"y": {"field": "mean", "type": "quantitative", "title": "ODI"}}}
                ]
              },
              {
                "data": {"name": "stats"},
                "transform": [{"filter": "datum.g === 'SLE'"}],
                "layer": [
                  {"mark": {"type": "rule", "strokeWidth": 2, "color": "#e8313a", "xOffset": 18.5},
                   "encoding": {"y": {"field": "lo", "type": "quantitative", "title": "ODI"}, "y2": {"field": "hi"}}},
                  {"mark": {"type": "tick", "size": 7, "thickness": 2, "color": "#e8313a", "xOffset": 15.5},
                   "encoding": {"y": {"field": "lo", "type": "quantitative", "title": "ODI"}}},
                  {"mark": {"type": "tick", "size": 7, "thickness": 2, "color": "#e8313a", "xOffset": 15.5},
                   "encoding": {"y": {"field": "hi", "type": "quantitative", "title": "ODI"}}},
                  {"mark": {"type": "bar", "width": 13, "fill": "#f8bfc3", "stroke": "#e8313a", "strokeWidth": 2, "xOffset": 12},
                   "encoding": {"y": {"field": "q1", "type": "quantitative", "title": "ODI"}, "y2": {"field": "q3"}}},
                  {"mark": {"type": "tick", "size": 13, "thickness": 2, "color": "#e8313a", "xOffset": 12},
                   "encoding": {"y": {"field": "med", "type": "quantitative", "title": "ODI"}}},
                  {"mark": {"type": "point", "shape": "circle", "filled": true, "fill": "white", "stroke": "#e8313a", "size": 38, "strokeWidth": 1.3, "opacity": 1, "xOffset": 18.5},
                   "encoding": {"y": {"field": "mean", "type": "quantitative", "title": "ODI"}}}
                ]
              },
              {
                "data": {"name": "dots"},
                "transform": [{"filter": "datum.g === 'HC'"}],
                "mark": {"type": "circle", "size": 14, "opacity": 1, "color": "#2a5fda", "xOffset": -13.5},
                "encoding": {"y": {"field": "v", "type": "quantitative", "title": "ODI"}}
              },
              {
                "data": {"name": "dots"},
                "transform": [{"filter": "datum.g === 'SLE'"}],
                "mark": {"type": "circle", "size": 14, "opacity": 1, "color": "#ee3a40", "xOffset": 30.5},
                "encoding": {"y": {"field": "v", "type": "quantitative", "title": "ODI"}}
              },
              {
                "data": {"name": "tracts"},
                "mark": {"type": "text", "fontSize": 19, "baseline": "middle", "color": "black"},
                "encoding": {
                  "y": {"datum": 0.3293, "type": "quantitative"},
                  "text": {"field": "t"}
                }
              },
              {
                "data": {"name": "tracts"},
                "mark": {"type": "text", "fontSize": 24, "baseline": "middle", "color": "#555555"},
                "encoding": {
                  "y": {"datum": 0.3045, "type": "quantitative"},
                  "text": {"field": "sig"}
                }
              }
            ]
          },
          {
            "width": 866, "height": 120,
            "encoding": {
              "y": {"field": "row", "type": "nominal", "scale": {"domain": ["group","Mean","p-value","Cohen's d"], "paddingInner": 0, "paddingOuter": 0},
                    "axis": {"title": null, "ticks": false, "domain": false, "labelFontSize": 18, "labelPadding": 6}}
            },
            "layer": [
              {
                "data": {"name": "tgm"},
                "mark": {"type": "text", "fontSize": 18, "baseline": "middle"},
                "encoding": {
                  "x": {"field": "t", "type": "nominal", "scale": {"type": "band", "domain": ["ATR_L","ATR_R","F_minor","F_major","IFOF_L","IFOF_R","UF_L","UF_R"], "paddingInner": 0, "paddingOuter": 0}, "axis": null},
                  "xOffset": {"field": "g", "type": "nominal", "scale": {"type": "band", "domain": ["HC","SLE"], "paddingInner": 0, "paddingOuter": 0}},
                  "text": {"field": "txt"}
                }
              },
              {
                "data": {"name": "tpd"},
                "mark": {"type": "text", "fontSize": 18, "baseline": "middle"},
                "encoding": {
                  "x": {"field": "t", "type": "nominal", "axis": null},
                  "text": {"field": "txt"}
                }
              },
              {
                "data": {"name": "tlines"},
                "mark": {"type": "rule", "strokeWidth": 1.5, "color": "black"},
                "encoding": {
                  "y": {"field": "row", "type": "nominal", "bandPosition": 1}
                }
              },
              {
                "data": {"name": "tlines"},
                "transform": [{"filter": "datum.row === 'group'"}],
                "mark": {"type": "rule", "strokeWidth": 1.5, "color": "black", "yOffset": 3},
                "encoding": {
                  "y": {"field": "row", "type": "nominal", "bandPosition": 1}
                }
              }
            ]
          }
        ]
      }
    ]
  },
  {
    "bounds": "flush",
    "spacing": 62.7,
    "resolve": {"scale": {"color": "independent"}},
    "title": {"text": "(B)", "anchor": "start", "frame": "group", "dx": -34, "fontSize": 30, "fontWeight": "bold", "offset": 5},
    "hconcat": [
      {
        "width": 260, "height": 263,
        "view": {"stroke": "black", "strokeWidth": 1.5},
        "title": {"text": "ROC curve of ATR", "fontSize": 14.5, "fontWeight": "bold", "offset": 4, "frame": "group"},
        "layer": [
          {
            "data": {"values": [{"a": 0, "b": 0, "a2": 1, "b2": 1}]},
            "mark": {"type": "rule", "stroke": "#555555", "strokeWidth": 1.6, "strokeDash": [8, 6]},
            "encoding": {
              "x": {"field": "a", "type": "quantitative", "title": "1-Specificity", "scale": {"domain": [0, 1], "nice": false},
                    "axis": {"values": [0, 0.2, 0.4, 0.6, 0.8, 1], "format": ".1f", "tickSize": -4, "tickWidth": 1.2, "labelPadding": 9, "labelFontSize": 11, "labelFontWeight": "bold", "titleFontSize": 15, "titleFontWeight": "bold", "titlePadding": 10}},
              "y": {"field": "b", "type": "quantitative", "title": "Sensitivity", "scale": {"domain": [0, 1], "nice": false},
                    "axis": {"values": [0, 0.2, 0.4, 0.6, 0.8, 1], "format": ".1f", "tickSize": -4, "tickWidth": 1.2, "labelPadding": 8, "labelFontSize": 11, "labelFontWeight": "bold", "titleFontSize": 15, "titleFontWeight": "bold", "titlePadding": 17}},
              "x2": {"field": "a2"},
              "y2": {"field": "b2"}
            }
          },
          {
            "data": {"name": "roc"},
            "transform": [{"filter": "datum.c === 'ATR'"}],
            "mark": {"type": "line", "interpolate": "step-after", "strokeWidth": 2},
            "encoding": {
              "x": {"field": "x", "type": "quantitative", "title": "1-Specificity"},
              "y": {"field": "y", "type": "quantitative", "title": "Sensitivity"},
              "order": {"value": null},
              "color": {"field": "s", "type": "nominal", "scale": {"domain": ["ATR_L, AUC = 0.69", "ATR_R, AUC = 0.71"], "range": ["#e60012", "#ff5a5a"]},
                        "legend": {"title": null, "orient": "bottom-right", "offset": 12, "symbolType": "stroke", "symbolSize": 484, "symbolStrokeWidth": 2.5, "labelFontSize": 12, "labelFontWeight": "bold", "labelColor": "black", "rowPadding": -1.5, "labelOffset": 5, "padding": 0}}
            }
          }
        ]
      },
      {
        "width": 260, "height": 263,
        "view": {"stroke": "black", "strokeWidth": 1.5},
        "title": {"text": "ROC curve of Forceps", "fontSize": 14.5, "fontWeight": "bold", "offset": 4, "frame": "group"},
        "layer": [
          {
            "data": {"values": [{"a": 0, "b": 0, "a2": 1, "b2": 1}]},
            "mark": {"type": "rule", "stroke": "#555555", "strokeWidth": 1.6, "strokeDash": [8, 6]},
            "encoding": {
              "x": {"field": "a", "type": "quantitative", "title": "1-Specificity", "scale": {"domain": [0, 1], "nice": false},
                    "axis": {"values": [0, 0.2, 0.4, 0.6, 0.8, 1], "format": ".1f", "tickSize": -4, "tickWidth": 1.2, "labelPadding": 9, "labelFontSize": 11, "labelFontWeight": "bold", "titleFontSize": 15, "titleFontWeight": "bold", "titlePadding": 10}},
              "y": {"field": "b", "type": "quantitative", "title": "Sensitivity", "scale": {"domain": [0, 1], "nice": false},
                    "axis": {"values": [0, 0.2, 0.4, 0.6, 0.8, 1], "format": ".1f", "tickSize": -4, "tickWidth": 1.2, "labelPadding": 8, "labelFontSize": 11, "labelFontWeight": "bold", "titleFontSize": 15, "titleFontWeight": "bold", "titlePadding": 17}},
              "x2": {"field": "a2"},
              "y2": {"field": "b2"}
            }
          },
          {
            "data": {"name": "roc"},
            "transform": [{"filter": "datum.c === 'F'"}],
            "mark": {"type": "line", "interpolate": "step-after", "strokeWidth": 2},
            "encoding": {
              "x": {"field": "x", "type": "quantitative", "title": "1-Specificity"},
              "y": {"field": "y", "type": "quantitative", "title": "Sensitivity"},
              "order": {"value": null},
              "color": {"field": "s", "type": "nominal", "scale": {"domain": ["F_minor, AUC = 0.69", "F_major, AUC = 0.65"], "range": ["#243f78", "#5b8fd4"]},
                        "legend": {"title": null, "orient": "bottom-right", "offset": 12, "symbolType": "stroke", "symbolSize": 484, "symbolStrokeWidth": 2.5, "labelFontSize": 12, "labelFontWeight": "bold", "labelColor": "black", "rowPadding": -1.5, "labelOffset": 5, "padding": 0}}
            }
          }
        ]
      },
      {
        "width": 260, "height": 263,
        "view": {"stroke": "black", "strokeWidth": 1.5},
        "title": {"text": "ROC curve of IFOF", "fontSize": 14.5, "fontWeight": "bold", "offset": 4, "frame": "group"},
        "layer": [
          {
            "data": {"values": [{"a": 0, "b": 0, "a2": 1, "b2": 1}]},
            "mark": {"type": "rule", "stroke": "#555555", "strokeWidth": 1.6, "strokeDash": [8, 6]},
            "encoding": {
              "x": {"field": "a", "type": "quantitative", "title": "1-Specificity", "scale": {"domain": [0, 1], "nice": false},
                    "axis": {"values": [0, 0.2, 0.4, 0.6, 0.8, 1], "format": ".1f", "tickSize": -4, "tickWidth": 1.2, "labelPadding": 9, "labelFontSize": 11, "labelFontWeight": "bold", "titleFontSize": 15, "titleFontWeight": "bold", "titlePadding": 10}},
              "y": {"field": "b", "type": "quantitative", "title": "Sensitivity", "scale": {"domain": [0, 1], "nice": false},
                    "axis": {"values": [0, 0.2, 0.4, 0.6, 0.8, 1], "format": ".1f", "tickSize": -4, "tickWidth": 1.2, "labelPadding": 8, "labelFontSize": 11, "labelFontWeight": "bold", "titleFontSize": 15, "titleFontWeight": "bold", "titlePadding": 17}},
              "x2": {"field": "a2"},
              "y2": {"field": "b2"}
            }
          },
          {
            "data": {"name": "roc"},
            "transform": [{"filter": "datum.c === 'IFOF'"}],
            "mark": {"type": "line", "interpolate": "step-after", "strokeWidth": 2},
            "encoding": {
              "x": {"field": "x", "type": "quantitative", "title": "1-Specificity"},
              "y": {"field": "y", "type": "quantitative", "title": "Sensitivity"},
              "order": {"value": null},
              "color": {"field": "s", "type": "nominal", "scale": {"domain": ["IFOF_L, AUC = 0.70", "IFOF_R, AUC = 0.68"], "range": ["#fba11b", "#fdd45a"]},
                        "legend": {"title": null, "orient": "bottom-right", "offset": 12, "symbolType": "stroke", "symbolSize": 484, "symbolStrokeWidth": 2.5, "labelFontSize": 12, "labelFontWeight": "bold", "labelColor": "black", "rowPadding": -1.5, "labelOffset": 5, "padding": 0}}
            }
          }
        ]
      },
      {
        "width": 260, "height": 263,
        "view": {"stroke": "black", "strokeWidth": 1.5},
        "title": {"text": "ROC curve of UF", "fontSize": 14.5, "fontWeight": "bold", "offset": 4, "frame": "group"},
        "layer": [
          {
            "data": {"values": [{"a": 0, "b": 0, "a2": 1, "b2": 1}]},
            "mark": {"type": "rule", "stroke": "#555555", "strokeWidth": 1.6, "strokeDash": [8, 6]},
            "encoding": {
              "x": {"field": "a", "type": "quantitative", "title": "1-Specificity", "scale": {"domain": [0, 1], "nice": false},
                    "axis": {"values": [0, 0.2, 0.4, 0.6, 0.8, 1], "format": ".1f", "tickSize": -4, "tickWidth": 1.2, "labelPadding": 9, "labelFontSize": 11, "labelFontWeight": "bold", "titleFontSize": 15, "titleFontWeight": "bold", "titlePadding": 10}},
              "y": {"field": "b", "type": "quantitative", "title": "Sensitivity", "scale": {"domain": [0, 1], "nice": false},
                    "axis": {"values": [0, 0.2, 0.4, 0.6, 0.8, 1], "format": ".1f", "tickSize": -4, "tickWidth": 1.2, "labelPadding": 8, "labelFontSize": 11, "labelFontWeight": "bold", "titleFontSize": 15, "titleFontWeight": "bold", "titlePadding": 17}},
              "x2": {"field": "a2"},
              "y2": {"field": "b2"}
            }
          },
          {
            "data": {"name": "roc"},
            "transform": [{"filter": "datum.c === 'UF'"}],
            "mark": {"type": "line", "interpolate": "step-after", "strokeWidth": 2},
            "encoding": {
              "x": {"field": "x", "type": "quantitative", "title": "1-Specificity"},
              "y": {"field": "y", "type": "quantitative", "title": "Sensitivity"},
              "order": {"value": null},
              "color": {"field": "s", "type": "nominal", "scale": {"domain": ["UF_L, AUC = 0.64", "UF_R, AUC = 0.66"], "range": ["#2ea543", "#7dd49a"]},
                        "legend": {"title": null, "orient": "bottom-right", "offset": 12, "symbolType": "stroke", "symbolSize": 484, "symbolStrokeWidth": 2.5, "labelFontSize": 12, "labelFontWeight": "bold", "labelColor": "black", "rowPadding": -1.5, "labelOffset": 5, "padding": 0}}
            }
          }
        ]
      }
    ]
  }
]
}
